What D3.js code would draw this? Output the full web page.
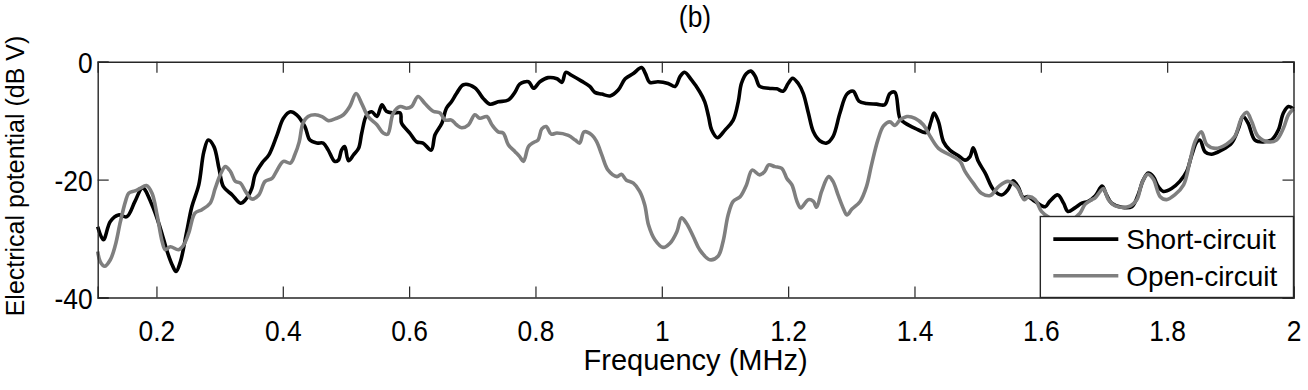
<!DOCTYPE html>
<html lang="en">
  <head>
    <meta charset="UTF-8" />
    <title>Electrical potential (b)</title>
    <script src="https://d3js.org/d3.v7.min.js"></script>
    <style>
      body { margin: 0; background: #fff; }
      text { font-family: "Liberation Sans", Arial, sans-serif; fill: #000; }
    </style>
  </head>

  <body>
    <svg id="chart" width="1308" height="390"></svg>
    <script>
      // frequency (MHz) / potential (dB V)
      const shortFreq = [0.107, 0.116, 0.127, 0.140, 0.153, 0.166, 0.178, 0.193, 0.206, 0.217, 0.225, 0.231, 0.238, 0.248, 0.256, 0.267, 0.275, 0.282, 0.291, 0.299, 0.306, 0.320, 0.333, 0.341, 0.351, 0.356, 0.367, 0.378, 0.391, 0.401, 0.412, 0.422, 0.435, 0.443, 0.454, 0.464, 0.472, 0.482, 0.488, 0.493, 0.498, 0.504, 0.512, 0.520, 0.525, 0.533, 0.541, 0.549, 0.557, 0.564, 0.575, 0.586, 0.588, 0.601, 0.612, 0.622, 0.635, 0.641, 0.652, 0.659, 0.667, 0.675, 0.686, 0.704, 0.717, 0.728, 0.741, 0.757, 0.768, 0.775, 0.789, 0.797, 0.807, 0.820, 0.834, 0.842, 0.848, 0.857, 0.873, 0.886, 0.894, 0.905, 0.918, 0.931, 0.942, 0.955, 0.968, 0.974, 0.981, 0.994, 1.010, 1.021, 1.029, 1.036, 1.047, 1.060, 1.068, 1.074, 1.079, 1.088, 1.100, 1.113, 1.121, 1.126, 1.134, 1.141, 1.148, 1.155, 1.169, 1.182, 1.192, 1.200, 1.207, 1.216, 1.224, 1.232, 1.240, 1.250, 1.261, 1.271, 1.282, 1.293, 1.303, 1.312, 1.324, 1.340, 1.353, 1.361, 1.369, 1.377, 1.385, 1.401, 1.419, 1.426, 1.431, 1.438, 1.446, 1.456, 1.469, 1.480, 1.488, 1.493, 1.501, 1.512, 1.525, 1.538, 1.548, 1.556, 1.564, 1.572, 1.580, 1.591, 1.607, 1.614, 1.627, 1.636, 1.643, 1.654, 1.665, 1.675, 1.686, 1.697, 1.704, 1.712, 1.728, 1.744, 1.754, 1.762, 1.770, 1.778, 1.786, 1.794, 1.807, 1.820, 1.831, 1.839, 1.847, 1.852, 1.860, 1.870, 1.886, 1.902, 1.913, 1.920, 1.928, 1.939, 1.952, 1.965, 1.976, 1.984, 1.992, 2.000];
      const shortDb = [-28.0, -30.2, -27.1, -26.0, -26.3, -23.7, -21.4, -24.3, -28.2, -32.2, -34.5, -35.6, -33.9, -28.8, -24.6, -20.9, -15.3, -13.3, -14.4, -18.1, -21.2, -22.6, -24.0, -23.4, -21.5, -19.2, -17.2, -15.8, -12.4, -9.6, -8.5, -9.0, -11.0, -13.3, -13.8, -13.8, -15.0, -16.9, -16.7, -15.0, -14.4, -16.8, -15.8, -14.7, -12.1, -9.0, -8.5, -9.3, -7.3, -8.4, -8.7, -8.7, -10.4, -12.1, -13.6, -13.8, -15.0, -12.4, -10.4, -7.9, -6.8, -5.4, -3.9, -4.4, -6.2, -7.2, -6.8, -6.5, -5.1, -3.8, -3.4, -4.5, -3.4, -2.7, -2.9, -3.5, -1.8, -2.3, -3.3, -4.2, -5.2, -5.5, -5.8, -4.8, -2.9, -2.0, -1.0, -2.0, -3.5, -3.4, -3.7, -4.2, -2.5, -1.8, -3.1, -5.1, -6.8, -9.3, -11.6, -12.9, -11.6, -9.9, -6.8, -3.7, -2.0, -1.6, -2.5, -4.2, -4.5, -4.6, -5.0, -3.7, -2.8, -3.7, -5.4, -8.7, -11.9, -13.4, -13.8, -12.7, -8.7, -5.5, -5.0, -6.7, -7.1, -7.2, -7.3, -5.4, -5.2, -9.6, -10.4, -11.3, -12.0, -10.2, -8.7, -10.2, -13.6, -15.0, -15.9, -16.7, -16.1, -14.6, -16.9, -18.9, -21.7, -22.6, -21.7, -20.2, -21.2, -23.0, -22.9, -23.7, -24.6, -23.7, -22.6, -24.0, -25.4, -24.8, -24.0, -23.7, -22.8, -21.1, -22.6, -24.0, -24.7, -24.6, -22.6, -20.1, -18.9, -19.5, -21.2, -22.0, -21.5, -20.3, -18.6, -15.8, -13.6, -13.3, -15.3, -15.7, -15.0, -13.8, -11.3, -9.3, -10.4, -13.3, -13.6, -13.3, -11.6, -8.7, -7.6, -8.0];

      const openFreq = [0.107, 0.111, 0.118, 0.127, 0.135, 0.143, 0.151, 0.156, 0.166, 0.174, 0.184, 0.193, 0.201, 0.209, 0.214, 0.222, 0.235, 0.243, 0.251, 0.261, 0.272, 0.285, 0.293, 0.301, 0.309, 0.317, 0.325, 0.333, 0.341, 0.351, 0.362, 0.372, 0.383, 0.391, 0.401, 0.412, 0.419, 0.426, 0.432, 0.440, 0.451, 0.462, 0.472, 0.485, 0.496, 0.506, 0.516, 0.525, 0.535, 0.549, 0.559, 0.566, 0.575, 0.586, 0.596, 0.604, 0.614, 0.625, 0.638, 0.649, 0.657, 0.667, 0.675, 0.683, 0.694, 0.704, 0.712, 0.723, 0.731, 0.741, 0.749, 0.757, 0.768, 0.775, 0.781, 0.789, 0.797, 0.804, 0.810, 0.817, 0.825, 0.834, 0.852, 0.863, 0.870, 0.877, 0.889, 0.897, 0.905, 0.915, 0.929, 0.936, 0.944, 0.955, 0.965, 0.973, 0.979, 0.989, 1.002, 1.013, 1.024, 1.031, 1.039, 1.050, 1.060, 1.076, 1.089, 1.097, 1.105, 1.113, 1.124, 1.134, 1.143, 1.155, 1.163, 1.169, 1.179, 1.190, 1.198, 1.206, 1.214, 1.220, 1.232, 1.240, 1.245, 1.253, 1.264, 1.271, 1.279, 1.287, 1.293, 1.301, 1.314, 1.324, 1.332, 1.342, 1.351, 1.361, 1.369, 1.377, 1.388, 1.401, 1.414, 1.425, 1.438, 1.454, 1.472, 1.480, 1.493, 1.506, 1.520, 1.533, 1.548, 1.562, 1.574, 1.580, 1.591, 1.601, 1.614, 1.633, 1.649, 1.662, 1.670, 1.681, 1.686, 1.694, 1.699, 1.707, 1.717, 1.738, 1.752, 1.760, 1.769, 1.778, 1.789, 1.799, 1.812, 1.826, 1.836, 1.844, 1.854, 1.863, 1.876, 1.894, 1.907, 1.918, 1.926, 1.934, 1.944, 1.960, 1.973, 1.984, 1.992, 2.000];
      const openDb = [-32.2, -33.9, -34.7, -33.6, -31.1, -27.1, -23.7, -22.3, -21.9, -21.5, -21.0, -22.3, -26.0, -30.5, -31.9, -31.4, -31.9, -31.1, -29.1, -25.7, -25.1, -24.0, -21.5, -19.2, -17.8, -18.6, -20.3, -20.6, -22.0, -23.3, -22.6, -20.3, -19.8, -18.4, -16.9, -17.2, -15.8, -13.6, -10.4, -9.3, -9.0, -9.3, -10.0, -9.6, -9.0, -7.6, -5.4, -7.1, -9.3, -10.7, -12.1, -12.3, -8.7, -7.6, -7.9, -7.6, -5.9, -7.1, -8.4, -8.7, -9.9, -9.9, -10.7, -11.2, -10.7, -9.0, -9.6, -9.3, -10.7, -11.9, -12.1, -14.1, -15.3, -16.1, -16.9, -14.4, -13.7, -13.3, -11.4, -11.0, -12.3, -12.1, -12.5, -13.3, -13.8, -11.9, -12.4, -13.6, -15.8, -18.4, -19.5, -19.1, -20.1, -20.6, -22.0, -24.3, -27.7, -30.2, -31.5, -30.8, -28.8, -26.5, -27.4, -29.7, -31.9, -33.6, -33.0, -30.5, -26.0, -23.7, -22.9, -20.9, -18.4, -19.2, -18.6, -17.5, -17.8, -18.1, -19.8, -20.9, -23.7, -24.8, -23.4, -23.7, -24.7, -22.0, -19.5, -20.3, -22.6, -24.8, -26.0, -25.0, -23.7, -21.2, -17.5, -13.3, -10.9, -10.2, -10.8, -9.9, -9.3, -9.6, -10.7, -12.7, -14.7, -15.7, -16.9, -18.6, -20.6, -22.3, -22.7, -21.2, -20.3, -21.2, -23.4, -22.9, -23.4, -25.4, -26.5, -27.2, -26.8, -25.7, -24.2, -23.4, -23.1, -22.0, -21.5, -23.4, -24.4, -24.6, -23.4, -20.6, -19.1, -19.9, -22.9, -23.4, -22.6, -20.9, -16.9, -13.6, -11.9, -14.1, -14.7, -14.0, -12.7, -9.5, -8.6, -10.2, -12.7, -13.6, -13.3, -11.3, -9.0, -8.0];

      const seriesNames = ["Short-circuit", "Open-circuit"];
      const seriesColors = ["#000000", "#7f7f7f"];
      const xTicks = [0.2, 0.4, 0.6, 0.8, 1, 1.2, 1.4, 1.6, 1.8, 2];
      const yTicks = [0, -20, -40];

      const svg = d3.select("#chart");
      const margin = { top: 61.7, right: 14.5, bottom: 92.5, left: 97.7 };
      const width = +svg.attr("width") - margin.left - margin.right;
      const height = +svg.attr("height") - margin.top - margin.bottom;

      const g = svg
        .append("g")
        .attr("transform", "translate(" + margin.left + "," + margin.top + ")");

      const x = d3.scaleLinear().domain([0.107, 2]).range([0, width]);
      const y = d3.scaleLinear().domain([-40, 0]).range([height, 0]);

      const line = d3
        .line()
        .x((d) => x(d[0]))
        .y((d) => y(d[1]))
        .curve(d3.curveCatmullRom.alpha(0.5));

      const series = [
        d3.zip(shortFreq, shortDb),
        d3.zip(openFreq, openDb),
      ];

      g.selectAll("path.series")
        .data(series)
        .join("path")
        .attr("class", "series")
        .attr("fill", "none")
        .attr("stroke", (d, i) => seriesColors[i])
        .attr("stroke-width", 3.6)
        .attr("stroke-linejoin", "round")
        .attr("d", line);

      // matlab style box, ticks inside on every side
      const tickLen = 11;
      const axisColor = "#262626";
      const fmt = (d) => String(d);
      const squeeze = 0.88; // matlab's helvetica runs narrow

      const xAxis = g.append("g").attr("transform", "translate(0," + height + ")")
        .call(d3.axisBottom(x).tickValues(xTicks).tickSize(-tickLen).tickFormat(fmt));
      const xTop = g.append("g")
        .call(d3.axisTop(x).tickValues(xTicks).tickSize(-tickLen).tickFormat(""));
      const yAxis = g.append("g")
        .call(d3.axisLeft(y).tickValues(yTicks).tickSize(-tickLen).tickFormat(fmt));
      const yRight = g.append("g").attr("transform", "translate(" + width + ",0)")
        .call(d3.axisRight(y).tickValues(yTicks).tickSize(-tickLen).tickFormat(""));

      [xAxis, xTop, yAxis, yRight].forEach((a) => {
        a.select(".domain").attr("stroke", axisColor).attr("stroke-width", 1.4);
        a.selectAll(".tick line").attr("stroke", axisColor).attr("stroke-width", 1.2);
        a.selectAll(".tick text")
          .attr("font-family", "Liberation Sans, Arial, sans-serif")
          .attr("font-size", 30)
          .attr("fill", "#000");
      });
      xAxis.selectAll(".tick text")
        .attr("y", null)
        .attr("dy", null)
        .attr("transform", "translate(0,43) scale(" + squeeze + ",1)");
      yAxis.selectAll(".tick text")
        .attr("x", null)
        .attr("dy", "0.36em")
        .attr("transform", "translate(-5,0) scale(" + squeeze + ",1)");

      // legend
      const legend = g.append("g")
        .attr("transform", "translate(" + (x(1.6) - 0.5) + "," + (height - 81) + ")");
      legend.append("rect")
        .attr("width", width - x(1.6) + 0.5)
        .attr("height", 81)
        .attr("fill", "#fff")
        .attr("stroke", axisColor)
        .attr("stroke-width", 1.4);
      const items = legend.selectAll("g.item")
        .data(seriesNames)
        .join("g")
        .attr("class", "item")
        .attr("transform", (d, i) => "translate(0," + (22.6 + i * 36.7) + ")");
      items.append("line")
        .attr("x1", 13).attr("x2", 78)
        .attr("stroke", (d, i) => seriesColors[i])
        .attr("stroke-width", 3.6);
      items.append("text")
        .attr("x", 86)
        .attr("y", 10)
        .attr("font-size", 28)
        .text((d) => d);

      // titles
      svg.append("text")
        .attr("transform", "translate(695,27) scale(" + squeeze + ",1)")
        .attr("text-anchor", "middle")
        .attr("font-size", 30)
        .text("(b)");

      svg.append("text")
        .attr("x", margin.left + width / 2)
        .attr("y", 370)
        .attr("text-anchor", "middle")
        .attr("font-size", 29)
        .text("Frequency (MHz)");

      svg.append("text")
        .attr("transform", "translate(24," + 176 + ") rotate(-90)")
        .attr("text-anchor", "middle")
        .attr("font-size", 25)
        .text("Electrical potential (dB V)");
    </script>
  </body>
</html>
